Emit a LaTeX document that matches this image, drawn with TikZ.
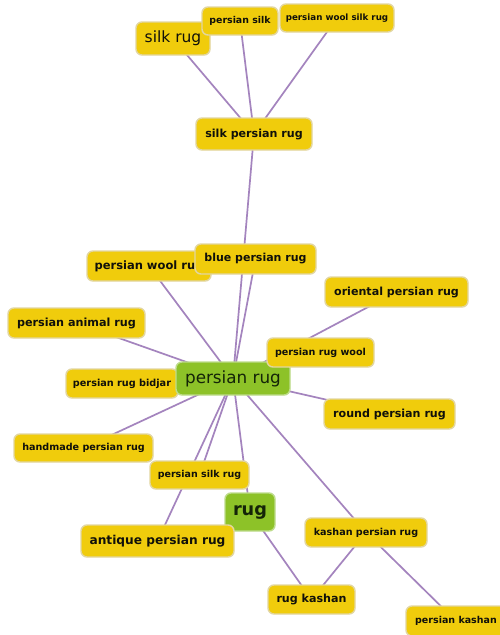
\documentclass[tikz,border=0pt]{standalone}
\usepackage{fontspec}
\setmainfont{DejaVu Sans}
\usetikzlibrary{backgrounds}
\definecolor{kwfill}{RGB}{240,204,12}
\definecolor{kwline}{RGB}{226,214,160}
\definecolor{hubfill}{RGB}{141,194,40}
\definecolor{hubline}{RGB}{190,220,140}
\definecolor{linkcol}{RGB}{164,132,190}
\definecolor{txt}{RGB}{16,16,10}
\newcommand\kwfont[1]{\fontsize{#1}{#1}\selectfont\bfseries}
\newcommand\hubfont[1]{\fontsize{#1}{#1}\selectfont}
\tikzset{
  kw/.style={rectangle, rounded corners=6pt, fill=kwfill, draw=kwline,
    line width=1.4pt, inner sep=0pt, text=txt, align=center},
  hub/.style={kw, fill=hubfill, draw=hubline, text={rgb,255:red,20;green,36;blue,8}},
  link/.style={draw=linkcol, line width=1.7pt}
}
\begin{document}
\begin{tikzpicture}[x=1pt,y=-1pt]
\useasboundingbox (0,0) rectangle (499,635);

% keyword boxes
\node[kw, minimum width=74pt, minimum height=33pt, font=\hubfont{15.5}] (silkrug) at (173,38.5) {silk rug};
\node[kw, minimum width=76pt, minimum height=28pt, font=\kwfont{9.4}] (persiansilk) at (240,21) {persian silk};
\node[kw, minimum width=114pt, minimum height=28pt, font=\kwfont{8.7}] (woolsilk) at (337,18) {persian wool silk rug};
\node[kw, minimum width=116pt, minimum height=32pt, font=\kwfont{11.1}] (silkpersian) at (254,134) {silk persian rug};
\node[kw, minimum width=124pt, minimum height=30pt, font=\kwfont{11.5}] (wool) at (149,266) {persian wool rug};
\node[kw, minimum width=121pt, minimum height=30pt, font=\kwfont{11}] (blue) at (255.5,259) {blue persian rug};
\node[kw, minimum width=137pt, minimum height=30pt, font=\kwfont{11.2}] (animal) at (76.5,323) {persian animal rug};
\node[kw, minimum width=143pt, minimum height=30pt, font=\kwfont{11.1}] (oriental) at (396.5,292) {oriental persian rug};
\node[kw, minimum width=112pt, minimum height=29pt, font=\kwfont{9.7}] (bidjar) at (122,383.5) {persian rug bidjar};
\node[hub, minimum width=114pt, minimum height=33pt, font=\hubfont{16.8}] (persianrug) at (233,378.5) {persian rug};
\node[kw, minimum width=107pt, minimum height=29pt, font=\kwfont{9.6}] (rugwool) at (320.5,352.5) {persian rug wool};
\node[kw, minimum width=131pt, minimum height=30pt, font=\kwfont{11.1}] (round) at (389.5,414) {round persian rug};
\node[kw, minimum width=139pt, minimum height=28pt, font=\kwfont{9.6}] (handmade) at (83.5,448) {handmade persian rug};
\node[kw, minimum width=99pt, minimum height=28pt, font=\kwfont{9.5}] (silkrugp) at (199.5,475) {persian silk rug};
\node[hub, minimum width=50pt, minimum height=38pt, font=\kwfont{17.7}] (rug) at (250,512) {rug};
\node[kw, minimum width=153pt, minimum height=32pt, font=\kwfont{12.2}] (antique) at (157.5,541) {antique persian rug};
\node[kw, minimum width=122pt, minimum height=29pt, font=\kwfont{9.6}] (kashanp) at (366,532.5) {kashan persian rug};
\node[kw, minimum width=87pt, minimum height=29pt, font=\kwfont{11.1}] (rugkashan) at (311.5,599.5) {rug kashan};
\node[kw, minimum width=100pt, minimum height=30pt, font=\kwfont{9.5}] (pkashan) at (456,621) {persian kashan};

% connections, drawn behind the boxes on a white ground
\begin{scope}[on background layer]
\fill[white] (0,0) rectangle (499,635);
\draw[link] (silkrug.center) -- (silkpersian.center);
\draw[link] (persiansilk.center) -- (silkpersian.center);
\draw[link] (woolsilk.center) -- (silkpersian.center);
\draw[link] (silkpersian.center) -- (persianrug.center);
\draw[link] (blue.center) -- (persianrug.center);
\draw[link] (wool.center) -- (persianrug.center);
\draw[link] (animal.center) -- (persianrug.center);
\draw[link] (oriental.center) -- (persianrug.center);
\draw[link] (rugwool.center) -- (persianrug.center);
\draw[link] (bidjar.center) -- (persianrug.center);
\draw[link] (round.center) -- (persianrug.center);
\draw[link] (handmade.center) -- (persianrug.center);
\draw[link] (silkrugp.center) -- (persianrug.center);
\draw[link] (antique.center) -- (persianrug.center);
\draw[link] (rug.center) -- (persianrug.center);
\draw[link] (kashanp.center) -- (persianrug.center);
\draw[link] (rug.center) -- (rugkashan.center);
\draw[link] (kashanp.center) -- (rugkashan.center);
\draw[link] (kashanp.center) -- (pkashan.center);
\end{scope}
\end{tikzpicture}
\end{document}
